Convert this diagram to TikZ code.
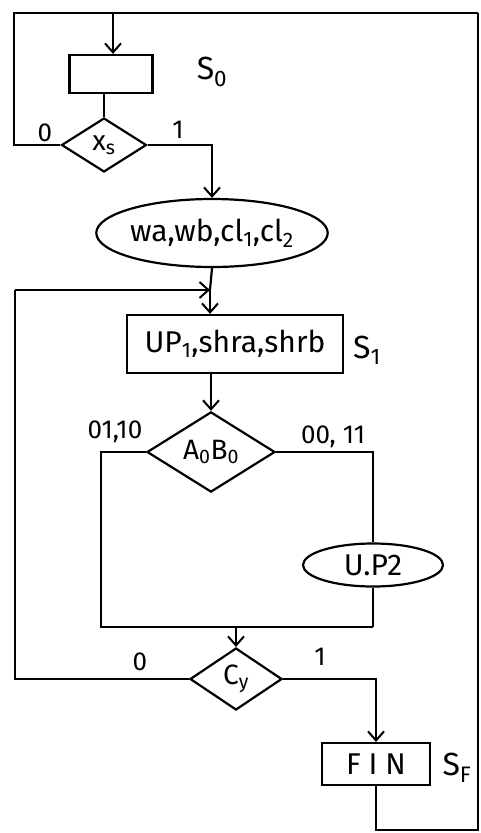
\documentclass[tikz,border=0pt]{standalone}
\usepackage{fontspec}
\setmainfont{Fira Sans}
\usetikzlibrary{shapes.geometric,arrows.meta}
\begin{document}
\begin{tikzpicture}[x=1pt,y=-1pt,
  every path/.style={line width=2.2pt},
  flow/.style={-{Straight Barb[length=9pt,width=16pt,line width=2pt]}},
  box/.style={draw,line width=2.2pt,rectangle,inner sep=0pt,font=\fontsize{30}{32}\selectfont},
  oval/.style={draw,line width=2.2pt,ellipse,inner sep=0pt,font=\fontsize{30}{32}\selectfont},
  dec/.style={draw,line width=2.2pt,diamond,inner sep=0pt,font=\fontsize{28}{30}\selectfont},
  lbl/.style={font=\fontsize{26}{28}\selectfont,inner sep=0pt},
  st/.style={font=\fontsize{32}{34}\selectfont,inner sep=0pt}]
\useasboundingbox (0,0) rectangle (481,833);
\fill[white] (0,0) rectangle (481,833);

\node[box,minimum width=83pt,minimum height=38pt] (s0) at (111,74) {};
\node[dec,minimum width=85pt,minimum height=54pt] (xs) at (104,145) {x\textsubscript{s}};
\node[oval,minimum width=218pt,minimum height=68pt] (w) at (212,233) {wa,wb,cl\textsubscript{1},cl\textsubscript{2}};
\node[box,minimum width=216pt,minimum height=58pt] (s1) at (235,344) {UP\textsubscript{1},shra,shrb};
\node[dec,minimum width=128pt,minimum height=60pt] (ab) at (211,452) {A\textsubscript{0}B\textsubscript{0}};
\node[oval,minimum width=140pt,minimum height=43pt] (up2) at (373,565) {U.P2};
\node[dec,minimum width=92pt,minimum height=62pt] (cy) at (236,679) {C\textsubscript{y}};
\node[box,minimum width=108pt,minimum height=42pt] (fin) at (376,764) {F I N};

\node[st] (ls0) at (212,72) {S\textsubscript{0}};
\node[st] (ls1) at (367,350) {S\textsubscript{1}};
\node[st] (lsf) at (457,768) {S\textsubscript{F}};
\node[lbl] (l0a) at (45,133) {0};
\node[lbl] (l1a) at (178,130) {1};
\node[lbl] (l01) at (115,432) {01,10};
\node[lbl] (l00) at (333,437) {00, 11};
\node[lbl] (l0b) at (140,662) {0};
\node[lbl] (l1b) at (320,657) {1};

\coordinate (tl) at (14,13);
\coordinate (tr) at (478,13);
\coordinate (ts) at (113,13);
\coordinate (br) at (478,830);
\coordinate (j) at (210,290);
\coordinate (jl) at (15,290);
\coordinate (ml) at (101,627);
\coordinate (mr) at (373,627);
\coordinate (mc) at (236,627);

\draw (xs.west) -| (tl) -- (tr);
\draw[flow] (ts) -- (ts |- s0.north);
\draw (xs.north |- s0.south) -- (xs.north);
\draw[flow] (xs.east) -| (w.north);
\draw (w.south) -- (j);
\draw[flow] (j) -- (j |- s1.north);
\draw[flow] (ab.north |- s1.south) -- (ab.north);
\draw (ab.west) -| (ml) -- (mr);
\draw (ab.east) -| (up2.north);
\draw (up2.south) -- (mr);
\draw[flow] (mc) -- (cy.north);
\draw (cy.west) -| (jl);
\draw[flow] (jl) -- (j);
\draw[flow] (cy.east) -| (fin.north);
\draw (fin.south) |- (br) -- (tr);
\end{tikzpicture}
\end{document}
